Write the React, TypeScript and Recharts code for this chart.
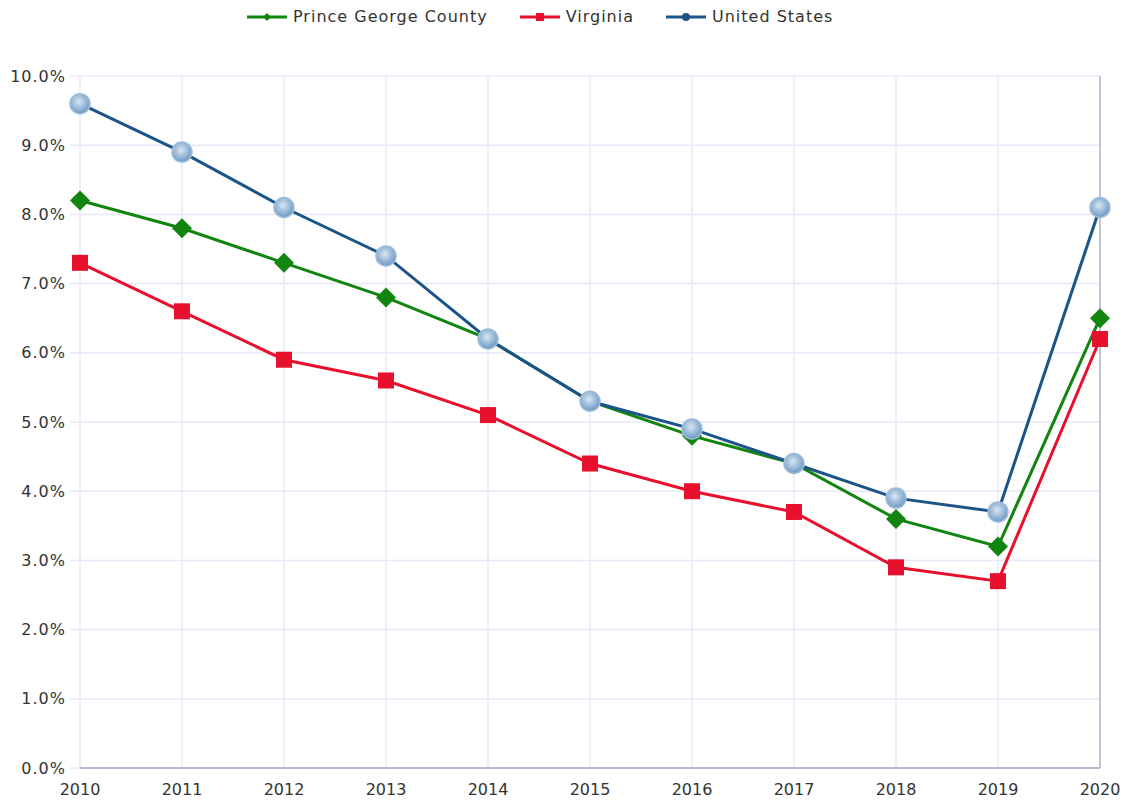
import { CartesianGrid, Legend, Line, LineChart, ReferenceLine, XAxis, YAxis } from "recharts";

const years = ["2010", "2011", "2012", "2013", "2014", "2015", "2016", "2017", "2018", "2019", "2020"];
const princeGeorge = [8.2, 7.8, 7.3, 6.8, 6.2, 5.3, 4.8, 4.4, 3.6, 3.2, 6.5];
const virginia = [7.3, 6.6, 5.9, 5.6, 5.1, 4.4, 4.0, 3.7, 2.9, 2.7, 6.2];
const unitedStates = [9.6, 8.9, 8.1, 7.4, 6.2, 5.3, 4.9, 4.4, 3.9, 3.7, 8.1];
const yTicks = [0, 1, 2, 3, 4, 5, 6, 7, 8, 9, 10];

const GREEN = "#11850f";
const RED = "#e8112d";
const BLUE = "#1c5488";
const FONT = "'DejaVu Sans', Verdana, sans-serif";

const data = years.map((year, i) => ({
  year,
  pg: princeGeorge[i],
  va: virginia[i],
  us: unitedStates[i],
}));

function DiamondDot(props: any) {
  const { cx, cy, index } = props;
  if (cx == null || cy == null) return null;
  const s = 10;
  return (
    <polygon
      key={`pg-${index}`}
      points={`${cx},${cy - s} ${cx + s},${cy} ${cx},${cy + s} ${cx - s},${cy}`}
      fill={GREEN}
    />
  );
}

function SquareDot(props: any) {
  const { cx, cy, index } = props;
  if (cx == null || cy == null) return null;
  return <rect key={`va-${index}`} x={cx - 8} y={cy - 8} width={16} height={16} fill={RED} />;
}

function CircleDot(props: any) {
  const { cx, cy, index } = props;
  if (cx == null || cy == null) return null;
  const id = `usgrad-${index}`;
  return (
    <g key={`us-${index}`}>
      <defs>
        <radialGradient id={id} cx="45%" cy="40%" r="60%">
          <stop offset="0%" stopColor="#d8e6f3" />
          <stop offset="100%" stopColor="#6b98c3" />
        </radialGradient>
      </defs>
      <circle cx={cx} cy={cy} r={10} fill={`url(#${id})`} stroke="#9dbcda" strokeWidth={1.5} />
    </g>
  );
}

const legendItems = [
  { label: "Prince George County", color: GREEN, shape: "diamond" },
  { label: "Virginia", color: RED, shape: "square" },
  { label: "United States", color: BLUE, shape: "circle" },
];

function LegendContent() {
  return (
    <div
      style={{
        display: "flex",
        justifyContent: "flex-start",
        paddingLeft: 247,
        gap: 32,
        fontFamily: FONT,
        fontSize: 16,
        letterSpacing: 1,
        color: "#333",
        lineHeight: "20px",
      }}
    >
      {legendItems.map((item) => (
        <div key={item.label} style={{ display: "flex", alignItems: "center", gap: 6 }}>
          <svg width={40} height={12}>
            <line x1={0} y1={6} x2={40} y2={6} stroke={item.color} strokeWidth={3} />
            {item.shape === "diamond" && <polygon points="20,2 24,6 20,10 16,6" fill={item.color} />}
            {item.shape === "square" && <rect x={16} y={2} width={8} height={8} fill={item.color} />}
            {item.shape === "circle" && <circle cx={20} cy={6} r={4} fill={item.color} />}
          </svg>
          <span>{item.label}</span>
        </div>
      ))}
    </div>
  );
}

export default function App() {
  return (
    <div style={{ position: "absolute", left: 0, top: 0, width: 1128, height: 801, background: "#fff" }}>
      <LineChart width={1128} height={801} data={data} margin={{ top: 56, right: 28, bottom: 0, left: 0 }}>
        <CartesianGrid stroke="#e8e8f6" strokeWidth={1.5} />
        <XAxis
          dataKey="year"
          axisLine={{ stroke: "#a9a9c6", strokeWidth: 1.5 }}
          tickLine={false}
          tickMargin={10}
          height={33}
          interval={0}
          tick={{ fill: "#333", fontSize: 16, fontFamily: FONT }}
        />
        <YAxis
          domain={[0, 10]}
          ticks={yTicks}
          width={80}
          axisLine={false}
          tickLine={{ stroke: "#e8e8f6", strokeWidth: 1.5 }}
          tickSize={10}
          tickMargin={4}
          tickFormatter={(v: number) => `${v.toFixed(1)}%`}
          tick={{ fill: "#333", fontSize: 16, fontFamily: FONT, letterSpacing: 1 }}
        />
        <ReferenceLine x="2020" stroke="#b3b3c8" strokeWidth={1.5} />
        <Legend verticalAlign="top" content={<LegendContent />} wrapperStyle={{ top: 7, left: 0, width: 1128 }} />
        <Line dataKey="pg" name="Prince George County" stroke={GREEN} strokeWidth={3} dot={<DiamondDot />} activeDot={false} isAnimationActive={false} />
        <Line dataKey="va" name="Virginia" stroke={RED} strokeWidth={3} dot={<SquareDot />} activeDot={false} isAnimationActive={false} />
        <Line dataKey="us" name="United States" stroke={BLUE} strokeWidth={3} dot={<CircleDot />} activeDot={false} isAnimationActive={false} />
      </LineChart>
    </div>
  );
}
